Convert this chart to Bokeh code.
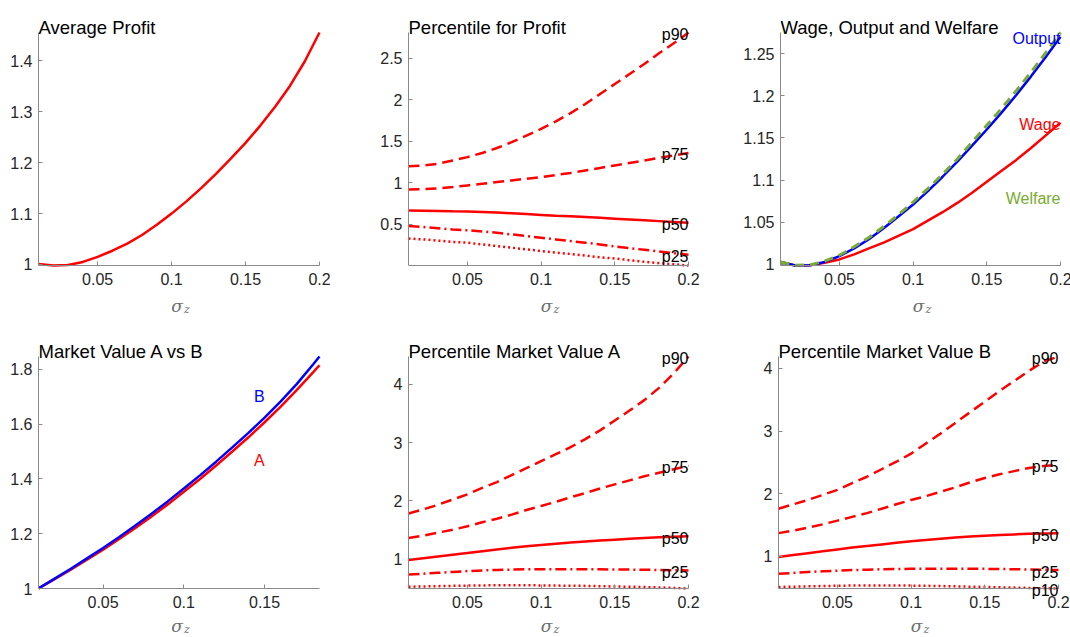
from bokeh.plotting import figure
from bokeh.layouts import row, column
from bokeh.models import (Range1d, FixedTicker, Label, LabelSet, ColumnDataSource,
                          CustomJSTickFormatter)
from bokeh.core.properties import value
from bokeh.embed import file_html
from bokeh.resources import INLINE

# ---------------- data ----------------
sigma = [0.01, 0.02, 0.03, 0.04, 0.05, 0.06, 0.07, 0.08, 0.09, 0.10,
         0.11, 0.12, 0.13, 0.14, 0.15, 0.16, 0.17, 0.18, 0.19, 0.20]
sigma_mv = [0.01, 0.02, 0.03, 0.04, 0.05, 0.06, 0.07, 0.08, 0.09, 0.10,
            0.11, 0.12, 0.13, 0.14, 0.15, 0.16, 0.17, 0.18, 0.184]

avg_profit = [1.001, 0.998, 0.999, 1.005, 1.015, 1.027, 1.041, 1.058, 1.078, 1.100,
              1.124, 1.150, 1.178, 1.208, 1.239, 1.273, 1.310, 1.351, 1.399, 1.456]

profit_p90 = [1.20, 1.21, 1.23, 1.27, 1.31, 1.36, 1.42, 1.49, 1.57, 1.65,
              1.74, 1.84, 1.95, 2.07, 2.19, 2.31, 2.43, 2.56, 2.68, 2.81]
profit_p75 = [0.92, 0.925, 0.935, 0.95, 0.97, 0.99, 1.01, 1.03, 1.05, 1.07,
              1.095, 1.12, 1.15, 1.18, 1.21, 1.24, 1.27, 1.30, 1.33, 1.36]
profit_p50 = [0.668, 0.665, 0.662, 0.658, 0.655, 0.651, 0.645, 0.635, 0.625, 0.615,
              0.605, 0.598, 0.59, 0.58, 0.57, 0.56, 0.55, 0.54, 0.53, 0.52]
profit_p25 = [0.48, 0.47, 0.455, 0.44, 0.43, 0.415, 0.40, 0.38, 0.36, 0.34,
              0.32, 0.30, 0.28, 0.26, 0.235, 0.215, 0.195, 0.175, 0.155, 0.135]
profit_p10 = [0.33, 0.32, 0.305, 0.29, 0.28, 0.26, 0.24, 0.22, 0.20, 0.18,
              0.16, 0.145, 0.125, 0.105, 0.09, 0.07, 0.05, 0.035, 0.02, 0.006]

output = [1.003, 0.9988, 0.9990, 1.003, 1.010, 1.019, 1.030, 1.043, 1.057, 1.071,
          1.087, 1.104, 1.122, 1.141, 1.160, 1.180, 1.201, 1.223, 1.246, 1.270]
welfare = [1.003, 0.999, 0.9995, 1.004, 1.011, 1.021, 1.032, 1.045, 1.059, 1.074,
           1.090, 1.107, 1.125, 1.145, 1.165, 1.185, 1.206, 1.228, 1.251, 1.275]
wage = [1.003, 0.9988, 0.999, 1.002, 1.006, 1.012, 1.019, 1.026, 1.034, 1.042,
        1.052, 1.062, 1.073, 1.085, 1.098, 1.111, 1.124, 1.138, 1.153, 1.168]

mv_b = [1.000, 1.036, 1.072, 1.110, 1.148, 1.188, 1.230, 1.273, 1.318, 1.365,
        1.413, 1.463, 1.515, 1.568, 1.624, 1.683, 1.747, 1.818, 1.847]
mv_a = [1.000, 1.034, 1.069, 1.105, 1.142, 1.181, 1.221, 1.263, 1.307, 1.353,
        1.400, 1.449, 1.500, 1.552, 1.607, 1.664, 1.725, 1.789, 1.815]

mva_p90 = [1.78, 1.85, 1.93, 2.02, 2.11, 2.22, 2.32, 2.44, 2.56, 2.68,
           2.80, 2.92, 3.06, 3.21, 3.38, 3.55, 3.73, 3.94, 4.19, 4.48]
mva_p75 = [1.36, 1.40, 1.45, 1.50, 1.56, 1.63, 1.69, 1.76, 1.84, 1.91,
           1.98, 2.06, 2.13, 2.21, 2.28, 2.35, 2.42, 2.48, 2.54, 2.60]
mva_p50 = [0.98, 1.01, 1.04, 1.07, 1.10, 1.13, 1.16, 1.19, 1.215, 1.24,
           1.26, 1.28, 1.30, 1.315, 1.33, 1.345, 1.36, 1.37, 1.38, 1.39]
mva_p25 = [0.73, 0.745, 0.76, 0.775, 0.79, 0.80, 0.81, 0.815, 0.82, 0.822,
           0.823, 0.823, 0.822, 0.82, 0.818, 0.815, 0.812, 0.808, 0.804, 0.80]
mva_p10 = [0.52, 0.525, 0.53, 0.535, 0.54, 0.543, 0.545, 0.545, 0.545, 0.543,
           0.54, 0.538, 0.535, 0.53, 0.525, 0.52, 0.515, 0.508, 0.50, 0.49]

mvb_p90 = [1.76, 1.83, 1.90, 1.98, 2.06, 2.17, 2.27, 2.39, 2.51, 2.64,
           2.80, 2.96, 3.13, 3.30, 3.47, 3.64, 3.80, 3.96, 4.11, 4.19]
mvb_p75 = [1.37, 1.41, 1.46, 1.51, 1.57, 1.63, 1.69, 1.76, 1.83, 1.90,
           1.96, 2.03, 2.10, 2.18, 2.25, 2.31, 2.36, 2.41, 2.44, 2.46]
mvb_p50 = [0.99, 1.02, 1.05, 1.08, 1.11, 1.14, 1.165, 1.19, 1.215, 1.24,
           1.26, 1.28, 1.30, 1.315, 1.33, 1.34, 1.35, 1.36, 1.365, 1.37]
mvb_p25 = [0.72, 0.735, 0.75, 0.76, 0.77, 0.78, 0.787, 0.793, 0.797, 0.80,
           0.802, 0.803, 0.803, 0.802, 0.80, 0.797, 0.793, 0.789, 0.785, 0.78]
mvb_p10 = [0.51, 0.515, 0.52, 0.525, 0.53, 0.533, 0.535, 0.535, 0.534, 0.532,
           0.529, 0.525, 0.52, 0.515, 0.51, 0.505, 0.50, 0.495, 0.49, 0.486]

x_ticks = [0.05, 0.1, 0.15, 0.2]
x_ticks_mv = [0.05, 0.1, 0.15]
y_ticks_avg = [1, 1.1, 1.2, 1.3, 1.4]
y_ticks_pp = [0.5, 1, 1.5, 2, 2.5]
y_ticks_wow = [1, 1.05, 1.1, 1.15, 1.2, 1.25]
y_ticks_mv = [1, 1.2, 1.4, 1.6, 1.8]
y_ticks_pmv = [1, 2, 3, 4]

# ---------------- styling ----------------
FONT = "Liberation Sans"
RED = "#ff0000"
BLUE = "#0000ff"
GREEN = "#77ac30"
AXIS = "#8a8a8a"
TICK_TXT = "#262626"
CAPTION = "#6e6e6e"

STYLES = {
    "p90": dict(line_dash="11 6"),
    "p75": dict(line_dash="11 6"),
    "p50": dict(),
    "p25": dict(line_dash="11 4 2 4"),
    "p10": dict(line_dash="2 3"),
}


def panel(title, xs, series, xticks, yticks, axis_w, left, pad_right,
          height, pad_top, axis_h, caption_gap):
    """One subplot. The plotting frame extends past the axes (up to the figure
    edges) so titles, captions, tick labels and end tags are never clipped; the
    axes themselves are drawn only over the data extent (MATLAB 'axis tight')."""
    ys = [v for s in series for v in s]
    y0, y1 = min(ys), max(ys)
    x0, x1 = min(xs), max(xs)
    yspan, xspan = y1 - y0, x1 - x0
    pad_bot = height - pad_top - axis_h
    p = figure(frame_width=axis_w + pad_right, frame_height=height,
               output_backend="svg", toolbar_location=None,
               x_range=Range1d(x0, x1 + xspan * pad_right / axis_w),
               y_range=Range1d(y0 - yspan * pad_bot / axis_h, y1 + yspan * pad_top / axis_h),
               min_border_left=left, min_border_right=0,
               min_border_top=0, min_border_bottom=0)
    p.title.visible = False
    p.outline_line_color = None
    p.xgrid.visible = False
    p.ygrid.visible = False
    fmt = "return tick.toString();"
    for ax, ticks in ((p.xaxis, xticks), (p.yaxis, yticks)):
        ax.ticker = FixedTicker(ticks=ticks)
        ax.formatter = CustomJSTickFormatter(code=fmt)
        ax.major_label_text_font = FONT
        ax.major_label_text_font_size = "16px"
        ax.major_label_text_color = TICK_TXT
        ax.axis_line_color = AXIS
        ax.major_tick_line_color = AXIS
        ax.major_tick_in = 4
        ax.major_tick_out = 0
        ax.minor_tick_line_color = None
    p.xaxis.major_label_standoff = 7
    p.yaxis.major_label_standoff = 6
    p.yaxis.bounds = (y0, y1)
    p.xaxis.bounds = (x0, x1)
    p.xaxis.fixed_location = y0

    # title, left-aligned over the axes
    p.add_layout(Label(x=x0, y=y1, text=title, y_offset=5,
                       text_font=FONT, text_font_size="18.5px", text_color="#000000",
                       text_align="left", text_baseline="alphabetic"))
    # sigma_z axis caption
    xm = (x0 + x1) / 2
    p.add_layout(Label(x=xm, y=y0, text="σ", x_offset=-2, y_offset=-caption_gap,
                       text_font="DejaVu Serif", text_font_style="italic",
                       text_font_size="17px", text_color=CAPTION,
                       text_align="center", text_baseline="middle"))
    p.add_layout(Label(x=xm, y=y0, text="z", x_offset=5, y_offset=-caption_gap - 4,
                       text_font="DejaVu Serif", text_font_style="italic",
                       text_font_size="11px", text_color=CAPTION,
                       text_align="left", text_baseline="middle"))
    return p


def tag_ends(p, xs, series, names):
    src = ColumnDataSource(dict(x=[xs[-1]] * len(series),
                                y=[s[-1] for s in series], t=names))
    p.add_layout(LabelSet(x="x", y="y", text="t", source=src, text_font=value(FONT),
                          text_font_size="16px", text_color="#000000",
                          text_align="right", text_baseline="middle", y_offset=-2))


def percentiles(p, xs, curves):
    for name, ys in curves:
        p.line(xs, ys, line_color=RED, line_width=2.5, **STYLES[name])


# column geometry: (axes width, left border, space right of axes)
C1 = (281, 38, 51)
C2 = (280, 38, 52)
C3 = (280, 38, 12)
# row geometry: (figure height, space above axes, axes height, caption gap)
R1 = (320, 32, 233, 40)
R2 = (317, 36, 232, 37)

# Row 1
p1 = panel("Average Profit", sigma, [avg_profit], x_ticks, y_ticks_avg, *C1, *R1)
p1.line(sigma, avg_profit, line_color=RED, line_width=2.5)

prof = [("p90", profit_p90), ("p75", profit_p75), ("p50", profit_p50),
        ("p25", profit_p25), ("p10", profit_p10)]
p2 = panel("Percentile for Profit", sigma, [s for _, s in prof], x_ticks, y_ticks_pp,
           *C2, *R1)
percentiles(p2, sigma, prof)
tag_ends(p2, sigma, [s for _, s in prof[:4]], [n for n, _ in prof[:4]])

p3 = panel("Wage, Output and Welfare", sigma, [output, welfare, wage], x_ticks,
           y_ticks_wow, *C3, *R1)
p3.line(sigma, wage, line_color=RED, line_width=2.5)
p3.line(sigma, output, line_color=BLUE, line_width=2.5)
p3.line(sigma, welfare, line_color=GREEN, line_width=3, line_dash="9 6")
p3.add_layout(Label(x=sigma[-1], y=output[-1], text="Output", text_font=FONT,
                    text_font_size="16px", text_color=BLUE, text_align="right",
                    text_baseline="middle", y_offset=-2))
p3.add_layout(Label(x=sigma[-1], y=wage[-1], text="Wage", text_font=FONT,
                    text_font_size="16px", text_color=RED, text_align="right",
                    text_baseline="middle", y_offset=-2))
p3.add_layout(Label(x=sigma[-1], y=1.078, text="Welfare", text_font=FONT,
                    text_font_size="16px", text_color=GREEN, text_align="right",
                    text_baseline="middle"))

# Row 2
p4 = panel("Market Value A vs B", sigma_mv, [mv_a, mv_b], x_ticks_mv, y_ticks_mv,
           *C1, *R2)
p4.line(sigma_mv, mv_a, line_color=RED, line_width=2.5)
p4.line(sigma_mv, mv_b, line_color=BLUE, line_width=2.5)
p4.add_layout(Label(x=0.1435, y=1.70, text="B", text_font=FONT, text_font_size="16px",
                    text_color=BLUE, text_baseline="middle"))
p4.add_layout(Label(x=0.1435, y=1.468, text="A", text_font=FONT, text_font_size="16px",
                    text_color=RED, text_baseline="middle"))

mva = [("p90", mva_p90), ("p75", mva_p75), ("p50", mva_p50),
       ("p25", mva_p25), ("p10", mva_p10)]
p5 = panel("Percentile Market Value A", sigma, [s for _, s in mva], x_ticks, y_ticks_pmv,
           *C2, *R2)
percentiles(p5, sigma, mva)
tag_ends(p5, sigma, [s for _, s in mva[:4]], [n for n, _ in mva[:4]])

mvb = [("p90", mvb_p90), ("p75", mvb_p75), ("p50", mvb_p50),
       ("p25", mvb_p25), ("p10", mvb_p10)]
p6 = panel("Percentile Market Value B", sigma, [s for _, s in mvb], x_ticks, y_ticks_pmv,
           *C3, *R2)
percentiles(p6, sigma, mvb)
tag_ends(p6, sigma, [s for _, s in mvb], [n for n, _ in mvb])

layout = column(row(p1, p2, p3), row(p4, p5, p6))
open("out.html", "w").write(file_html(layout, INLINE))
